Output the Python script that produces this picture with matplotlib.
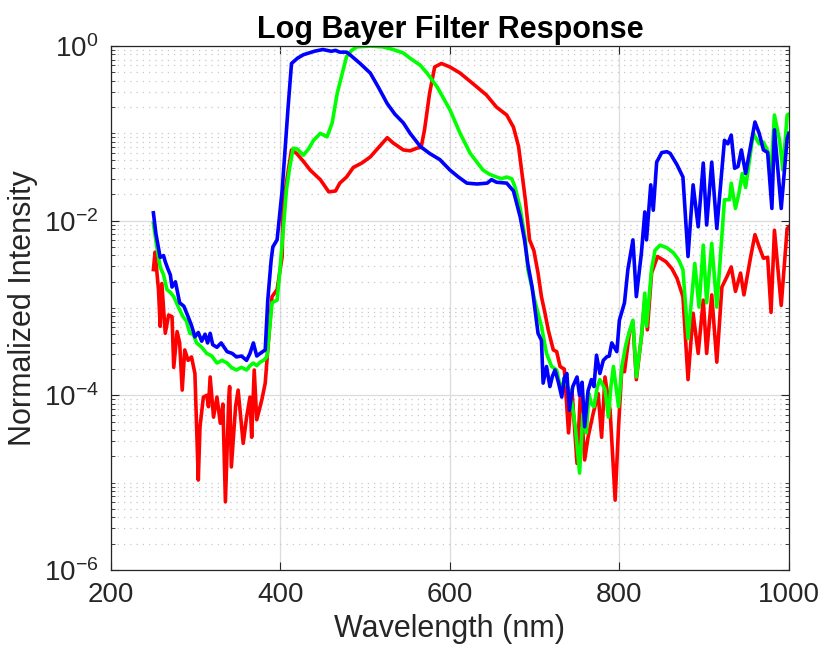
import numpy as np
import matplotlib
matplotlib.use("Agg")
import matplotlib.pyplot as plt
from matplotlib.ticker import LogLocator, NullFormatter, LogFormatterMathtext

# значения, интенсивность хранится как log10
blue_nm = [250, 253, 258, 262, 264, 267, 270, 272, 276, 281, 286, 291, 295, 299, 303, 307, 311, 314,
           317, 320, 325, 330, 337, 343, 348, 354, 360, 364, 368, 372, 376, 382, 385, 389, 391, 396,
           402, 409, 413, 420, 427, 440, 450, 460, 465, 470, 478, 482, 494, 506, 516, 526, 535, 545,
           553, 565, 576, 588, 600, 610, 620, 632, 644, 649, 655, 667, 675, 683, 688, 692, 697, 704,
           708, 710, 714, 718, 721, 724, 728, 732, 735, 738, 741, 745, 750, 753, 756, 759, 763, 767,
           770, 773, 777, 781, 785, 788, 791, 797, 800, 806, 810, 816, 820, 826, 830, 832, 837, 840,
           844, 850, 856, 860, 868, 875, 881, 887, 893, 899, 903, 909, 915, 924, 928, 932, 936, 940,
           944, 949, 960, 965, 970, 975, 980, 983, 991, 998, 1000]
blue_log = [-1.91, -2.15, -2.42, -2.40, -2.47, -2.55, -2.62, -2.76, -2.70, -2.94, -2.98, -3.10, -3.20,
            -3.33, -3.28, -3.38, -3.30, -3.40, -3.29, -3.42, -3.45, -3.40, -3.50, -3.52, -3.56, -3.55,
            -3.60, -3.52, -3.40, -3.55, -3.52, -3.48, -2.91, -2.45, -2.30, -2.22, -1.65, -0.70, -0.20,
            -0.14, -0.10, -0.06, -0.04, -0.06, -0.05, -0.07, -0.07, -0.10, -0.20, -0.31, -0.48, -0.66,
            -0.78, -0.88, -1.00, -1.15, -1.23, -1.30, -1.42, -1.50, -1.57, -1.58, -1.57, -1.53, -1.56,
            -1.57, -1.66, -1.96, -2.22, -2.50, -2.76, -3.29, -3.37, -3.86, -3.67, -3.90, -3.78, -3.71,
            -3.85, -4.02, -3.80, -3.75, -4.17, -3.90, -3.79, -4.00, -3.85, -4.36, -3.95, -3.82, -3.90,
            -3.54, -3.75, -3.60, -3.56, -3.55, -3.40, -3.50, -3.14, -2.94, -2.56, -2.22, -2.87, -2.37,
            -1.90, -2.22, -1.59, -1.88, -1.33, -1.22, -1.21, -1.23, -1.36, -1.50, -2.41, -1.59, -2.07,
            -1.34, -2.05, -1.33, -2.09, -1.08, -1.12, -1.02, -1.40, -1.38, -1.19, -1.46, -0.87, -1.00,
            -1.19, -1.22, -1.86, -0.96, -1.86, -1.06, -1.00]

green_nm = [250, 254, 258, 262, 266, 270, 274, 280, 285, 289, 293, 297, 301, 307, 313, 319, 325, 331,
            337, 342, 348, 354, 360, 364, 368, 372, 376, 380, 384, 390, 396, 399, 403, 407, 411, 415,
            420, 427, 433, 439, 447, 455, 461, 467, 473, 478, 484, 490, 506, 521, 533, 545, 553, 565,
            573, 585, 600, 612, 624, 639, 647, 655, 661, 667, 673, 677, 683, 689, 692, 700, 708, 714,
            720, 726, 729, 732, 735, 738, 741, 744, 748, 753, 757, 761, 764, 767, 770, 774, 777, 783,
            787, 790, 793, 799, 803, 807, 810, 816, 820, 826, 830, 832, 838, 842, 848, 856, 864, 870,
            875, 881, 889, 894, 899, 903, 909, 915, 924, 930, 932, 937, 941, 945, 949, 958, 965, 970,
            975, 979, 983, 989, 993, 998, 1000]
green_log = [-2.03, -2.30, -2.53, -2.62, -2.79, -2.82, -2.87, -3.00, -3.10, -3.15, -3.29, -3.30, -3.40,
             -3.45, -3.52, -3.55, -3.63, -3.60, -3.63, -3.68, -3.71, -3.68, -3.71, -3.66, -3.63, -3.66,
             -3.62, -3.60, -3.56, -2.94, -2.91, -2.60, -2.14, -1.65, -1.38, -1.17, -1.18, -1.25, -1.18,
             -1.08, -1.00, -1.04, -0.88, -0.54, -0.31, -0.12, -0.05, -0.01, 0.00, -0.01, -0.04, -0.08,
             -0.14, -0.22, -0.31, -0.47, -0.73, -1.00, -1.23, -1.42, -1.47, -1.50, -1.52, -1.50, -1.52,
             -1.62, -1.86, -2.22, -2.56, -2.91, -3.21, -3.52, -3.67, -3.71, -3.85, -3.94, -3.80, -3.88,
             -3.95, -4.09, -4.36, -4.89, -4.21, -4.43, -3.98, -4.10, -4.13, -3.90, -3.82, -3.93, -4.25,
             -3.90, -3.67, -4.13, -3.67, -3.45, -3.33, -3.14, -3.79, -3.33, -2.83, -3.21, -2.56, -2.34,
             -2.28, -2.31, -2.37, -2.45, -2.56, -3.35, -2.49, -2.99, -2.28, -2.94, -2.26, -2.99, -1.76,
             -1.76, -1.57, -1.86, -1.69, -1.46, -1.62, -1.00, -1.12, -1.10, -1.20, -1.46, -0.79, -1.08,
             -1.42, -0.79, -0.78]

red_nm = [250, 252, 256, 258, 260, 264, 268, 272, 274, 278, 281, 284, 287, 291, 295, 299, 303, 305,
          309, 313, 315, 317, 321, 325, 329, 332, 335, 339, 340, 342, 347, 350, 356, 360, 364, 366,
          369, 372, 378, 382, 385, 390, 396, 402, 403, 408, 413, 419, 427, 435, 447, 457, 465, 470,
          478, 486, 496, 506, 517, 526, 533, 545, 553, 561, 566, 570, 576, 582, 590, 600, 612, 627,
          643, 655, 667, 675, 681, 685, 689, 694, 699, 704, 708, 712, 716, 722, 726, 730, 735, 740,
          744, 750, 754, 759, 763, 769, 775, 779, 783, 789, 795, 799, 803, 806, 812, 816, 820, 826,
          830, 833, 838, 845, 850, 855, 862, 868, 875, 881, 887, 893, 899, 903, 909, 915, 921, 927,
          932, 937, 943, 947, 955, 960, 965, 970, 975, 979, 983, 991, 998, 1000]
red_log = [-2.56, -2.36, -2.79, -3.21, -2.72, -3.29, -3.08, -3.10, -3.68, -3.27, -3.40, -3.94, -3.48,
           -3.60, -3.56, -3.75, -4.97, -4.36, -4.02, -4.00, -4.13, -3.79, -4.25, -4.02, -4.32, -4.10,
           -5.22, -4.02, -3.90, -4.82, -4.13, -3.94, -4.55, -4.25, -4.02, -4.48, -3.71, -4.28, -4.05,
           -3.86, -3.48, -2.87, -2.79, -2.41, -1.84, -1.50, -1.19, -1.23, -1.32, -1.42, -1.53, -1.67,
           -1.66, -1.57, -1.50, -1.39, -1.34, -1.27, -1.15, -1.05, -1.11, -1.19, -1.20, -1.17, -1.16,
           -0.96, -0.54, -0.24, -0.20, -0.24, -0.31, -0.43, -0.56, -0.70, -0.79, -0.93, -1.15, -1.46,
           -1.76, -2.22, -2.34, -2.60, -2.87, -3.05, -3.25, -3.48, -3.50, -3.67, -3.70, -4.43, -3.94,
           -4.78, -3.98, -4.74, -4.48, -4.21, -3.98, -4.48, -3.79, -4.17, -5.20, -4.36, -3.67, -3.73,
           -3.27, -3.17, -3.82, -3.33, -2.91, -3.25, -2.60, -2.41, -2.44, -2.47, -2.55, -2.66, -2.87,
           -3.82, -3.06, -3.52, -2.91, -3.52, -2.85, -3.62, -2.76, -2.64, -2.53, -2.81, -2.60, -2.85,
           -2.41, -2.16, -2.30, -2.43, -2.42, -3.05, -2.11, -2.97, -2.09, -2.07]

x_ticks = [200, 400, 600, 800, 1000]
y_ticks = [1e-6, 1e-4, 1e-2, 1e0]

plt.rcParams['font.family'] = ['Liberation Sans', 'DejaVu Sans']
plt.rcParams['mathtext.fontset'] = 'custom'
plt.rcParams['mathtext.rm'] = 'Liberation Sans'
plt.rcParams['mathtext.it'] = 'Liberation Sans'

fig = plt.figure(figsize=(8.2, 6.5), dpi=100)
ax = fig.add_axes([0.1354, 0.1231, 0.8266, 0.8061])

ax.plot(red_nm, 10 ** np.array(red_log), color=(1, 0, 0), lw=2.6)
ax.plot(green_nm, 10 ** np.array(green_log), color=(0, 1, 0), lw=2.6)
ax.plot(blue_nm, 10 ** np.array(blue_log), color=(0, 0, 1), lw=2.6)

ax.set_yscale('log')
ax.set_xlim(200, 1000)
ax.set_ylim(1e-6, 1)
ax.set_xticks(x_ticks)
ax.set_yticks(y_ticks)
ax.yaxis.set_major_formatter(LogFormatterMathtext())
ax.yaxis.set_minor_locator(LogLocator(base=10, subs=np.arange(1, 10), numticks=100))
ax.yaxis.set_minor_formatter(NullFormatter())

# сетка в стиле matlab
ax.grid(True, which='major', color='#dcdcdc', lw=0.9, ls='-')
ax.grid(True, which='minor', axis='y', color='#c8c8c8', lw=0.9, ls=(0, (1, 4)))
ax.set_axisbelow(True)

dark = '#262626'
for s in ax.spines.values():
    s.set_color(dark)
    s.set_linewidth(0.9)
ax.tick_params(which='both', direction='in', top=True, right=True, colors=dark, labelsize=20)
ax.tick_params(which='major', length=6, pad=9)
ax.tick_params(which='minor', length=3)

ax.set_xlabel('Wavelength (nm)', fontsize=22, color=dark, labelpad=4)
ax.set_ylabel('Normalized Intensity', fontsize=22, color=dark, labelpad=4)
ax.set_title('Log Bayer Filter Response', fontsize=22, fontweight='bold', pad=6)

fig.savefig('out.png', dpi=100)
